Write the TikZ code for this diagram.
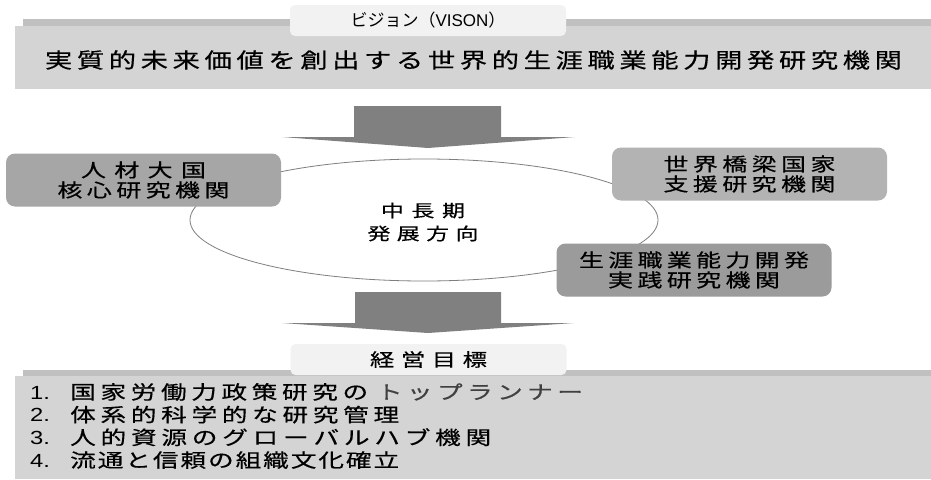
\documentclass[tikz,border=0pt]{standalone}
\usepackage{fontspec}
\setmainfont{Noto Sans CJK JP}
\newfontfamily\jptitle[FakeStretch=1.3,FakeBold=0.5]{Noto Sans CJK JP}
\newfontfamily\jpwide[FakeStretch=1.35,FakeBold=0.5]{Noto Sans CJK JP}
\newfontfamily\jpplain{Noto Sans CJK JP}
\newfontfamily\latin{Liberation Sans}
\newfontfamily\latinw[FakeStretch=1.25]{Liberation Sans}
\usetikzlibrary{shapes.geometric}
\definecolor{stripgray}{HTML}{C0C0C0}
\definecolor{panelgray}{HTML}{D4D4D4}
\definecolor{taggray}{HTML}{F2F2F2}
\definecolor{arrowgray}{HTML}{808080}
\definecolor{ellgray}{HTML}{7F7F7F}
\definecolor{nodeA}{HTML}{A6A6A6}
\definecolor{nodeB}{HTML}{B3B3B3}
\definecolor{nodeC}{HTML}{9B9B9B}
\definecolor{runner}{HTML}{404040}
% spread the characters of #2 evenly over a box #1 wide
\newcommand\sprd[2]{\makebox[#1][s]{\sprdA#2\relax}}
\def\sprdA#1{#1\sprdB}
\def\sprdB#1{\ifx#1\relax\else\hfil#1\expandafter\sprdB\fi}
\newcommand\num[1]{\makebox[40pt][l]{\latinw\fontsize{19}{20}\selectfont #1}}
\begin{document}
\begin{tikzpicture}[x=1pt,y=-1pt,
  tag/.style={fill=taggray, draw=none, rounded corners=5pt, minimum width=276pt,
    minimum height=31pt, inner sep=0pt},
  inst/.style={draw=none, rounded corners=9pt, minimum width=275pt, minimum height=53pt,
    inner sep=0pt, align=center, font=\jpwide\fontsize{18.5}{20}\selectfont},
  bigarrow/.style={fill=arrowgray, draw=none}
]
\useasboundingbox (0,0) rectangle (931,479);
\fill[white] (0,0) rectangle (931,479);

% vision panel
\fill[stripgray] (23,19) rectangle (931,26);
\fill[panelgray] (15,26) rectangle (931,89);
\node[tag, font=\jpplain\fontsize{17}{20}\selectfont] (vlabel) at (428,20.5)
  {ビジョン（{\latin VISON}）};
\node[inner sep=0pt, font=\jptitle\fontsize{21}{22}\selectfont] (vision) at (473.5,60)
  {\sprd{857pt}{実質的未来価値を創出する世界的生涯職業能力開発研究機関}};

% top arrow
\fill[bigarrow] (354,106) -- (501,106) -- (501,137) -- (575,137) -- (428,148)
  -- (282,137) -- (354,137) -- cycle;

% ellipse
\node[draw=ellgray, line width=0.8pt, ellipse, minimum width=468pt, minimum height=122pt,
  inner sep=0pt] (ell) at (424,220) {};
\node[inner sep=0pt, align=center, font=\jpwide\fontsize{17}{23}\selectfont] (mid) at (423,222)
  {\sprd{84pt}{中長期}\\\sprd{111pt}{発展方向}};

% institutions
\node[inst, fill=nodeA] (n1) at (143.5,180)
  {\sprd{125pt}{人材大国}\\\sprd{172pt}{核心研究機関}};
\node[inst, fill=nodeB] (n2) at (749.5,174)
  {\sprd{172pt}{世界橋梁国家}\\\sprd{172pt}{支援研究機関}};
\node[inst, fill=nodeC] (n3) at (694,270)
  {\sprd{230pt}{生涯職業能力開発}\\\sprd{172pt}{実践研究機関}};

% bottom arrow
\fill[bigarrow] (355,292) -- (501,292) -- (501,323) -- (574,323) -- (428,333)
  -- (282,323) -- (355,323) -- cycle;

% goals panel
\fill[stripgray] (23,370) rectangle (931,376);
\fill[panelgray] (15,376) rectangle (931,479);
\node[tag, font=\jpwide\fontsize{18}{20}\selectfont] (glabel) at (428.5,359.5)
  {\sprd{117pt}{経営目標}};
\node[inner sep=0pt, anchor=west, align=left, font=\jpwide\fontsize{19}{22.7}\selectfont] (goals) at (30,426)
  {\num{1.}\sprd{298pt}{国家労働力政策研究の}\hspace{8.7pt}{\color{runner}\sprd{206pt}{トップランナー}}\\
   \num{2.}\sprd{329pt}{体系的科学的な研究管理}\\
   \num{3.}\sprd{421pt}{人的資源のグローバルハブ機関}\\
   \num{4.}\sprd{329pt}{流通と信頼の組織文化確立}};
\end{tikzpicture}
\end{document}
